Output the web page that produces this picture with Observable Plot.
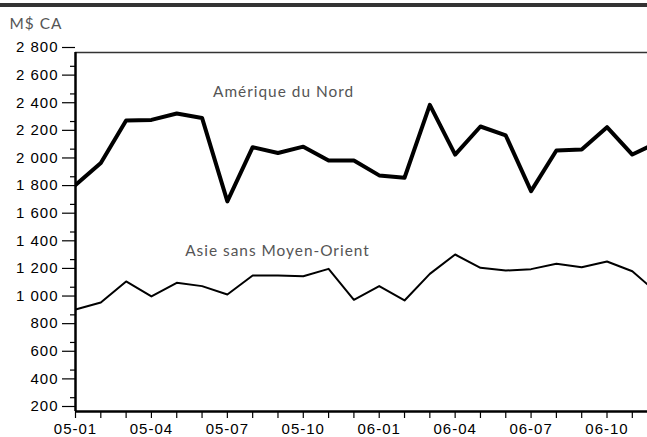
<!DOCTYPE html>
<html>
<head>
<meta charset="utf-8">
<script src="https://cdn.jsdelivr.net/npm/d3@7"></script>
<script src="https://cdn.jsdelivr.net/npm/@observablehq/plot@0.6"></script>
<style>
  html, body { margin: 0; padding: 0; background: #fff; }
  #wrap { width: 647px; margin-top: 3px; border-top: 4px solid #333; }
  svg { display: block; }
</style>
</head>
<body>
<div id="wrap"></div>
<script>
const months = ["05-01","05-02","05-03","05-04","05-05","05-06","05-07","05-08","05-09","05-10","05-11","05-12",
                "06-01","06-02","06-03","06-04","06-05","06-06","06-07","06-08","06-09","06-10","06-11","06-12"];
const northAmerica = [1840, 2000, 2308, 2312, 2358, 2326, 1722, 2114, 2072, 2118, 2018, 2018,
                      1910, 1893, 2421, 2061, 2264, 2199, 1796, 2090, 2098, 2259, 2061, 2150];
const asia = [939, 989, 1142, 1033, 1132, 1108, 1047, 1185, 1185, 1180, 1233, 1009,
              1108, 1004, 1197, 1337, 1241, 1221, 1231, 1270, 1245, 1286, 1216, 1056];
const seriesNames = ["Amérique du Nord", "Asie sans Moyen-Orient"];
const unitLabel = "M$ CA";
const yMajor = d3.range(200, 2801, 200);
const yMinor = d3.range(300, 2800, 200);
const labelMonths = [0, 3, 6, 9, 12, 15, 18, 21];

const na = months.map((m, i) => ({i, v: northAmerica[i]}));
const as = months.map((m, i) => ({i, v: asia[i]}));
const fmt = d => d3.format(",")(d).replace(/,/g, " ");

const chart = Plot.plot({
  width: 647,
  height: 430,
  marginTop: 45,
  marginLeft: 75,
  marginRight: 0,
  marginBottom: 26,
  style: {fontFamily: "Liberation Sans, Arial, sans-serif", fontSize: "15px", letterSpacing: "1px", color: "#000", background: "#fff"},
  x: {domain: [0, 22.6], label: null},
  y: {domain: [200, 2800], label: null},
  marks: [
    Plot.axisY(yMinor, {tickSize: 5, text: null, stroke: "#000", strokeWidth: 1.2, label: null}),
    Plot.axisY(yMajor, {tickSize: 13, tickPadding: 4, tickFormat: fmt, dy: -5, stroke: "#000", strokeWidth: 1.2, fill: "#000", label: null, fontSize: 15}),
    Plot.axisX(d3.range(0, 23), {tickSize: 7, text: null, stroke: "#000", strokeWidth: 1.2, label: null}),
    Plot.axisX(labelMonths, {tickSize: 0, tickPadding: 12, tickFormat: i => months[i], fill: "#000", label: null, fontSize: 15}),
    Plot.ruleY([2800], {stroke: "#333", strokeWidth: 1.5}),
    Plot.ruleY([200], {stroke: "#000", strokeWidth: 2.5}),
    Plot.ruleX([0], {stroke: "#000", strokeWidth: 2.5}),
    Plot.line(na, {x: "i", y: "v", stroke: "#000", strokeWidth: 4, clip: true}),
    Plot.line(as, {x: "i", y: "v", stroke: "#000", strokeWidth: 2, clip: true}),
    Plot.text([seriesNames[0]], {x: 8.22, y: 2510, text: d => d, fill: "#555", fontFamily: "Lato, sans-serif", fontSize: 15.4, letterSpacing: "0.6px"}),
    Plot.text([seriesNames[1]], {x: 7.98, y: 1361, text: d => d, fill: "#555", fontFamily: "Lato, sans-serif", fontSize: 15.4, letterSpacing: "0.6px"}),
    Plot.text([unitLabel], {frameAnchor: "top-left", dx: -66, dy: -34, text: d => d, textAnchor: "start", fill: "#555", fontFamily: "Lato, sans-serif", fontSize: 15.4, letterSpacing: "0.6px"})
  ]
});
document.getElementById("wrap").appendChild(chart);
</script>
</body>
</html>
